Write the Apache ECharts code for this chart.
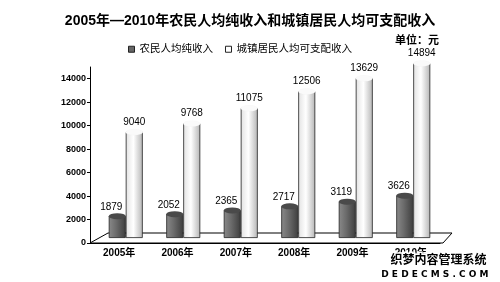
<!DOCTYPE html>
<html>
<head>
<meta charset="utf-8">
<script src="https://cdn.jsdelivr.net/npm/echarts@6/dist/echarts.min.js"></script>
<style>
  html, body { margin: 0; padding: 0; background: #fff; }
  #chart { width: 500px; height: 282px; }
</style>
</head>
<body>
<div id="chart"></div>
<script>
// 数据
const years = ['2005年', '2006年', '2007年', '2008年', '2009年', '2010年'];
const farmerIncome = [1879, 2052, 2365, 2717, 3119, 3626];
const urbanIncome = [9040, 9768, 11075, 12506, 13629, 14894];
const yTicks = [0, 2000, 4000, 6000, 8000, 10000, 12000, 14000];

const FONT = "'Liberation Sans', 'Noto Sans CJK SC', sans-serif";
const chart = echarts.init(document.getElementById('chart'));

// 柱体渐变
function shade(l, m, r) {
  return new echarts.graphic.LinearGradient(0, 0, 1, 0, [
    {offset: 0, color: l},
    {offset: 0.45, color: m},
    {offset: 1, color: r}
  ]);
}

const option = {
  backgroundColor: '#fff',
  animation: false,
  textStyle: {fontFamily: FONT},
  title: [
    {
      text: '2005年—2010年农民人均纯收入和城镇居民人均可支配收入',
      left: 'center',
      top: 9,
      textStyle: {fontSize: 14, fontWeight: 'bold', color: '#000', fontFamily: FONT}
    },
    {
      text: '单位：元',
      right: 56,
      top: 30,
      textStyle: {fontSize: 11, fontWeight: 'bold', color: '#000', fontFamily: FONT}
    }
  ],
  legend: {
    left: 123,
    top: 39,
    itemWidth: 6,
    itemHeight: 6,
    itemGap: 12,
    textStyle: {fontSize: 10.5, color: '#000'},
    data: [
      {name: '农民人均纯收入', icon: 'rect', itemStyle: {color: '#666', borderColor: '#222', borderWidth: 1}},
      {name: '城镇居民人均可支配收入', icon: 'rect', itemStyle: {color: '#fff', borderColor: '#222', borderWidth: 1}}
    ]
  },
  grid: [
    {left: 90, right: 60, top: 67, bottom: 39},
    {left: 97, right: 58, top: 62, bottom: 44}
  ],
  xAxis: [
    {
      type: 'category',
      gridIndex: 0,
      data: years,
      axisLine: {lineStyle: {color: '#000'}},
      axisTick: {length: 4, lineStyle: {color: '#000'}},
      axisLabel: {fontSize: 10, fontWeight: 'bold', color: '#000', margin: 5}
    },
    {
      type: 'category',
      gridIndex: 1,
      data: years,
      show: false
    }
  ],
  yAxis: [
    {
      type: 'value',
      gridIndex: 0,
      min: 0,
      max: 15000,
      interval: 2000,
      splitLine: {show: false},
      axisLine: {show: true, lineStyle: {color: '#000'}},
      axisTick: {show: true, length: 3, lineStyle: {color: '#000'}},
      axisLabel: {
        fontSize: 9, fontWeight: 'bold', color: '#000', margin: 4,
        showMaxLabel: false,
        formatter: v => (yTicks.indexOf(v) >= 0 ? String(v) : '')
      }
    },
    {
      type: 'value',
      gridIndex: 1,
      min: 0,
      max: 15000,
      show: false,
      splitLine: {show: false}
    }
  ],
  graphic: [
    // 底座
    {
      type: 'polygon',
      z: 0,
      silent: true,
      shape: {points: [[90, 243], [108, 233], [452, 233], [443, 243]]},
      style: {fill: '#fff', stroke: '#000', lineWidth: 1}
    },
    {
      type: 'text',
      right: 12,
      top: 252,
      z: 100,
      style: {
        text: '织梦内容管理系统',
        font: "bold 12px 'Noto Sans CJK SC'",
        fill: '#000', stroke: '#fff', lineWidth: 3
      }
    },
    {
      type: 'text',
      right: 10,
      top: 269,
      z: 100,
      style: {
        text: 'D E D E C M S . C O M',
        font: "bold 9px 'DejaVu Sans'",
        fill: '#000', stroke: '#fff', lineWidth: 3
      }
    }
  ],
  series: [
    {
      name: '农民人均纯收入',
      type: 'bar',
      xAxisIndex: 1,
      yAxisIndex: 1,
      barWidth: 17,
      barGap: '0%',
      z: 3,
      itemStyle: {color: shade('#8a8a8a', '#6a6a6a', '#3e3e3e'), borderColor: '#222', borderWidth: 0.8},
      label: {show: true, position: 'top', distance: 4, offset: [-6, 0], fontSize: 10, color: '#000'},
      data: farmerIncome
    },
    {
      name: '城镇居民人均可支配收入',
      type: 'bar',
      xAxisIndex: 1,
      yAxisIndex: 1,
      barWidth: 17,
      barGap: '0%',
      z: 3,
      itemStyle: {color: shade('#e2e2e2', '#ffffff', '#b5b5b5'), borderColor: '#222', borderWidth: 0.8},
      label: {show: true, position: 'top', distance: 5, fontSize: 10, color: '#000'},
      data: urbanIncome
    },
    // 顶部椭圆
    {
      name: '农民人均纯收入',
      type: 'pictorialBar',
      xAxisIndex: 1,
      yAxisIndex: 1,
      barWidth: 17,
      barGap: '0%',
      symbol: 'circle',
      symbolSize: [17, 6],
      symbolPosition: 'end',
      symbolOffset: [0, '-50%'],
      z: 4,
      itemStyle: {color: '#4a4a4a', borderColor: '#222', borderWidth: 0.8},
      data: farmerIncome
    },
    {
      name: '城镇居民人均可支配收入',
      type: 'pictorialBar',
      xAxisIndex: 1,
      yAxisIndex: 1,
      barWidth: 17,
      barGap: '0%',
      symbol: 'circle',
      symbolSize: [17, 6],
      symbolPosition: 'end',
      symbolOffset: [0, '-50%'],
      z: 4,
      itemStyle: {color: '#fafafa', borderColor: '#222', borderWidth: 0.8},
      data: urbanIncome
    }
  ]
};

chart.setOption(option);
</script>
</body>
</html>
